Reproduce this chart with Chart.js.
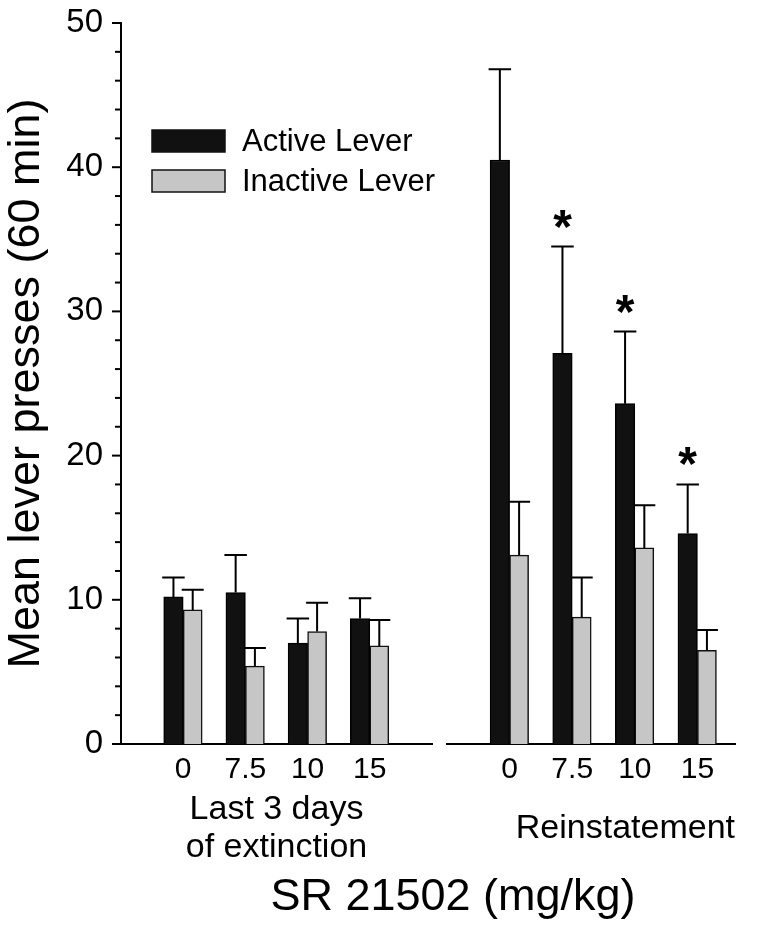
<!DOCTYPE html>
<html lang="en">
<head>
  <meta charset="UTF-8" />
  <title>SR 21502 lever presses</title>
  <script src="https://cdn.jsdelivr.net/npm/chart.js"></script>
  <style>
    body { margin: 0; background: #fff; font-family: 'Liberation Sans', Arial, sans-serif; }
    #wrap { position: relative; width: 768px; height: 927px; overflow: hidden; }
    #leftChart { position: absolute; left: 0; top: 0; }
    #rightChart { position: absolute; left: 440px; top: 0; }
    .xtitle { position: absolute; left: 153px; width: 600px; top: 872px; height: 45px; line-height: 45px; text-align: center; font-size: 45px; color: #000; }
  </style>
</head>
<body>
  <div id="wrap">
    <canvas id="leftChart" width="440" height="927"></canvas>
    <canvas id="rightChart" width="328" height="927"></canvas>
    <div class="xtitle">SR 21502 (mg/kg)</div>
  </div>
  <script>
    // doses (tick labels) shared by both panels
    const doses = ['0', '7.5', '10', '15'];

    // last 3 days of extinction
    const extActive = [10.2, 10.5, 7.0, 8.7];
    const extActiveSem = [1.35, 2.6, 1.7, 1.4];
    const extInactive = [9.3, 5.4, 7.8, 6.8];
    const extInactiveSem = [1.4, 1.25, 2.0, 1.8];

    // reinstatement
    const reinActive = [40.5, 27.1, 23.6, 14.6];
    const reinActiveSem = [6.3, 7.4, 5.0, 3.4];
    const reinInactive = [13.1, 8.8, 13.6, 6.5];
    const reinInactiveSem = [3.7, 2.75, 2.95, 1.4];
    const reinSig = [false, true, true, true];

    const FONT = "'Liberation Sans', Arial, sans-serif";
    Chart.defaults.font.family = FONT;
    Chart.defaults.color = '#000';

    // y axis tick marks: long at labelled values, short between
    const axisTicks = {
      id: 'axisTicks',
      afterDraw(chart) {
        const y = chart.scales.y;
        if (!y.options.display) return;
        const ctx = chart.ctx;
        ctx.save();
        ctx.strokeStyle = '#000';
        ctx.lineWidth = 2;
        y.ticks.forEach(t => {
          const py = y.getPixelForValue(t.value);
          const len = t.value % 10 === 0 ? 9 : 6;
          ctx.beginPath();
          ctx.moveTo(y.right - len, py);
          ctx.lineTo(y.right, py);
          ctx.stroke();
        });
        ctx.restore();
      }
    };

    // upward SEM bars + asterisks
    const errorBars = {
      id: 'errorBars',
      afterDatasetsDraw(chart) {
        const ctx = chart.ctx, ys = chart.scales.y;
        ctx.save();
        ctx.strokeStyle = '#000';
        ctx.fillStyle = '#000';
        ctx.lineWidth = 2;
        ctx.font = 'bold 48px ' + FONT;
        ctx.textAlign = 'center';
        ctx.textBaseline = 'alphabetic';
        chart.data.datasets.forEach((ds, di) => {
          chart.getDatasetMeta(di).data.forEach((bar, i) => {
            const top = ys.getPixelForValue(ds.data[i].y + ds.sem[i]);
            const half = bar.width / 2 + 1.5;
            ctx.beginPath();
            ctx.moveTo(bar.x, bar.y);
            ctx.lineTo(bar.x, top);
            ctx.moveTo(bar.x - half, top);
            ctx.lineTo(bar.x + half, top);
            ctx.stroke();
            if (ds.sig && ds.sig[i]) ctx.fillText('*', bar.x, top - 4);
          });
        });
        ctx.restore();
      }
    };

    // legend inside the plot, top left
    const boxLegend = {
      id: 'boxLegend',
      afterDraw(chart) {
        const ctx = chart.ctx, area = chart.chartArea;
        ctx.save();
        chart.data.datasets.forEach((ds, i) => {
          const bx = area.left + 31, by = area.top + 107 + i * 40;
          ctx.fillStyle = ds.backgroundColor;
          ctx.fillRect(bx, by, 73, 22);
          ctx.strokeStyle = '#111';
          ctx.lineWidth = 1.5;
          ctx.strokeRect(bx, by, 73, 22);
          ctx.fillStyle = '#000';
          ctx.font = '31px ' + FONT;
          ctx.textBaseline = 'middle';
          ctx.fillText(ds.label, bx + 90, by + 12);
        });
        ctx.restore();
      }
    };

    function makeChart(id, groupTitle, active, activeSem, inactive, inactiveSem, sig, opt) {
      return new Chart(document.getElementById(id), {
        type: 'bar',
        data: {
          datasets: [
            { label: 'Active Lever', data: active.map((v, i) => ({ x: i + 1, y: v })), sem: activeSem, sig: sig,
              backgroundColor: '#111', borderColor: '#000', borderWidth: 1.5, barThickness: 19.5 },
            { label: 'Inactive Lever', data: inactive.map((v, i) => ({ x: i + 1, y: v })), sem: inactiveSem,
              backgroundColor: '#c6c6c6', borderColor: '#111', borderWidth: 1.5, barThickness: 19 }
          ]
        },
        options: {
          responsive: false,
          animation: false,
          layout: { padding: opt.padding },
          plugins: { legend: { display: false }, tooltip: { enabled: false } },
          scales: {
            x: {
              type: 'linear', min: 0, max: opt.xMax, offset: false,
              afterBuildTicks: s => { s.ticks = doses.map((d, i) => ({ value: i + 1 })); },
              afterFit: s => { s.height = 183; s.paddingLeft = 0; s.paddingRight = 0; },
              grid: { display: false, drawTicks: false, offset: false },
              border: { display: true, color: '#000', width: 2 },
              ticks: { callback: v => doses[v - 1], font: { size: 30 }, padding: 8, autoSkip: false, maxRotation: 0 },
              title: { display: true, text: groupTitle, align: opt.titleAlign, font: { size: 34, lineHeight: 1.12 },
                padding: { top: 0, bottom: opt.titlePad } }
            },
            y: {
              display: opt.showY, min: 0, max: 50,
              afterFit: s => {
                s.width = opt.showY ? 121 : 0;
                s.paddingTop = 0;
                s.paddingBottom = 0;
              },
              grid: { display: false, drawTicks: false },
              border: { display: true, color: '#000', width: 2 },
              ticks: { stepSize: 2, autoSkip: false, callback: v => (v % 10 === 0 ? v : ''), font: { size: 33 }, padding: 18 },
              title: { display: true, text: 'Mean lever presses (60 min)', font: { size: 45, lineHeight: 1 }, padding: { top: 4, bottom: 0 } }
            }
          }
        },
        plugins: opt.legend ? [axisTicks, errorBars, boxLegend] : [axisTicks, errorBars]
      });
    }

    makeChart('leftChart', ['Last 3 days', 'of extinction'], extActive, extActiveSem, extInactive, extInactiveSem, null,
      { padding: { left: 0, top: 23, right: 8, bottom: 0 }, xMax: 5, titlePad: 60, titleAlign: 'center', showY: true, legend: true });

    makeChart('rightChart', 'Reinstatement', reinActive, reinActiveSem, reinInactive, reinInactiveSem, reinSig,
      { padding: { left: 7, top: 23, right: 33, bottom: 0 }, xMax: 4.6, titlePad: 79, titleAlign: 'end', showY: false, legend: false });
  </script>
</body>
</html>
